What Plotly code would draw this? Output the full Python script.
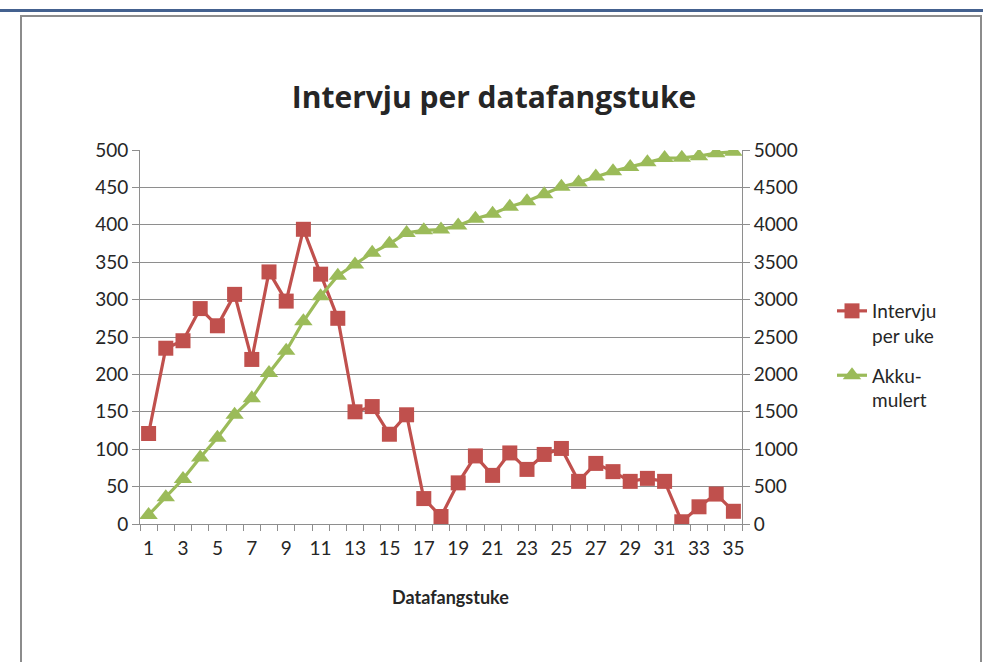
import plotly.graph_objects as go

weeks = list(range(1, 36))
per_week = [121, 235, 245, 288, 265, 307, 220, 337, 298, 394,
            334, 275, 150, 157, 120, 146, 34, 10, 55, 91,
            65, 95, 73, 93, 101, 57, 81, 70, 57, 61,
            57, 3, 23, 40, 17]
cumulative = [121, 356, 601, 889, 1154, 1461, 1681, 2018, 2316, 2710,
              3044, 3319, 3469, 3626, 3746, 3892, 3926, 3936, 3991, 4082,
              4147, 4242, 4315, 4408, 4509, 4566, 4647, 4717, 4774, 4835,
              4892, 4895, 4918, 4958, 4975]
tick_weeks = list(range(1, 36, 2))
tick_labels = [str(w) for w in tick_weeks]
boundaries = [w + 0.5 for w in range(0, 36)]

# body margin is removed by post_script, so figure pixels == screen pixels
W, H = 983, 662
L, T = 140, 150
R = W - 742
B = H - 524
pw, ph = W - L - R, H - T - B

def px_x(p):
    return (p - L) / pw

def px_y(p):
    return (H - B - p) / ph

RED = "#C0504D"
GREEN = "#9BBB59"
GRID = "#8E8E8E"
FONT = "Lato"
TXT = "#262626"

fig = go.Figure()
fig.add_trace(go.Scatter(
    x=weeks, y=per_week, name="Intervju<br>per uke", mode="lines+markers",
    legendgroup="a",
    line=dict(color=RED, width=3.2),
    marker=dict(symbol="square", size=15, color=RED),
))
fig.add_trace(go.Scatter(
    x=weeks, y=cumulative, name="Akku-<br>mulert", mode="lines+markers",
    legendgroup="b", yaxis="y2",
    line=dict(color=GREEN, width=3.2),
    marker=dict(symbol="triangle-up", size=16, color=GREEN),
))

fig.update_layout(
    width=W, height=H,
    margin=dict(l=L, r=R, t=T, b=B),
    paper_bgcolor="white", plot_bgcolor="white",
    font=dict(family=FONT, size=19, color=TXT),
    title=dict(text="<b>Intervju per datafangstuke</b>",
               x=494 / W, xanchor="center",
               y=1 - 97 / H, yanchor="middle",
               font=dict(family="Open Sans", size=30, color=TXT)),
    xaxis=dict(range=[0.5, 35.5], tickmode="array", tickvals=tick_weeks,
               ticktext=tick_labels, ticks="outside", ticklen=7,
               tickcolor="rgba(0,0,0,0)", showgrid=False, zeroline=False,
               showline=True, linecolor=GRID, linewidth=1,
               minor=dict(tickmode="array", tickvals=boundaries, ticks="outside",
                          ticklen=6, tickcolor=GRID, showgrid=False)),
    yaxis=dict(range=[0, 500], dtick=50, showgrid=True, gridcolor=GRID,
               gridwidth=1, zeroline=False, showline=True, linecolor=GRID,
               ticks="outside", ticklen=7, tickcolor=GRID),
    yaxis2=dict(range=[0, 5000], dtick=500, overlaying="y", side="right",
                showgrid=False, zeroline=False, showline=True, linecolor=GRID,
                ticks="outside", ticklen=7, tickcolor=GRID),
    legend=dict(x=px_x(832), y=px_y(292), xanchor="left", yanchor="top",
                valign="top", traceorder="grouped", tracegroupgap=12,
                bgcolor="rgba(0,0,0,0)",
                font=dict(family=FONT, size=19, color=TXT)),
    showlegend=True,
)

# x-axis title
fig.add_annotation(text="<b>Datafangstuke</b>", xref="paper", yref="paper",
                   x=px_x(450.5), y=px_y(597), xanchor="center", yanchor="middle",
                   showarrow=False, font=dict(family=FONT, size=18, color=TXT))

# outer chart frame and header rule
fig.add_shape(type="rect", xref="paper", yref="paper",
              x0=px_x(21), x1=px_x(981), y0=px_y(16), y1=px_y(700),
              line=dict(color="#8C8C8C", width=2), layer="below")
fig.add_shape(type="line", xref="paper", yref="paper",
              x0=px_x(0), x1=px_x(990), y0=px_y(10.5), y1=px_y(10.5),
              line=dict(color="#44618F", width=3))

fig.write_html("out.html",
               config={"displayModeBar": False},
               post_script="document.body.style.margin='0';"
                           "document.body.style.overflow='hidden';")
